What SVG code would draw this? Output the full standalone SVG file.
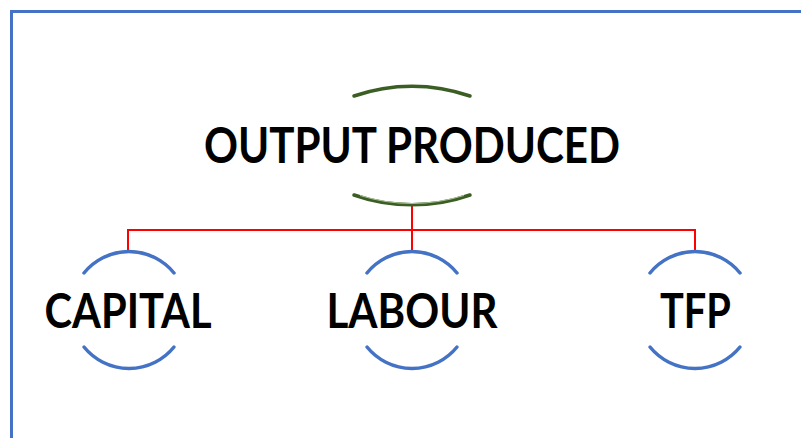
<svg xmlns="http://www.w3.org/2000/svg" width="801" height="438" viewBox="0 0 801 438">
  <style>
    .frame { fill: none; stroke: #4472C4; stroke-width: 3; }
    .green { fill: none; stroke: #3B5E24; stroke-width: 3.5; stroke-linecap: round; }
    .green-hi { fill: none; stroke: #A9C193; stroke-width: 1; }
    .blue { fill: none; stroke: #4472C4; stroke-width: 3.5; stroke-linecap: round; }
    .link { fill: none; stroke: #FF0000; stroke-width: 2; }
    .label { font-family: Lato, "Open Sans", "Liberation Sans", sans-serif; font-weight: 700; fill: #000000; text-anchor: middle; }
  </style>
  <rect width="801" height="438" fill="#FFFFFF"/>
  <rect class="frame" x="11.5" y="11.5" width="800" height="440"/>

  <g id="connectors">
    <path class="link" d="M412 205 V230"/>
    <path class="link" d="M128 252 V230 H695 V252"/>
    <path class="link" d="M412 230 V252"/>
  </g>

  <g id="node-output">
    <path class="green" d="M354 96 A176 176 0 0 1 470 96"/>
    <path class="green" d="M354 195 A176 176 0 0 0 470 195"/>
    <path class="green-hi" d="M360 195.5 A176 176 0 0 0 464 195.5"/>
    <text class="label" x="412" y="163" font-size="49" textLength="416" lengthAdjust="spacingAndGlyphs">OUTPUT PRODUCED</text>
  </g>

  <g id="node-capital">
    <path class="blue" d="M84 273 A58 58 0 0 1 174 273"/>
    <path class="blue" d="M84 347 A58 58 0 0 0 174 347"/>
    <text class="label" x="128" y="328" font-size="47" textLength="167" lengthAdjust="spacingAndGlyphs">CAPITAL</text>
  </g>

  <g id="node-labour">
    <path class="blue" d="M367 273 A58 58 0 0 1 457 273"/>
    <path class="blue" d="M367 347 A58 58 0 0 0 457 347"/>
    <text class="label" x="412" y="328" font-size="47" textLength="171" lengthAdjust="spacingAndGlyphs">LABOUR</text>
  </g>

  <g id="node-tfp">
    <path class="blue" d="M650 273 A58 58 0 0 1 740 273"/>
    <path class="blue" d="M650 347 A58 58 0 0 0 740 347"/>
    <text class="label" x="695.5" y="328" font-size="47" textLength="71" lengthAdjust="spacingAndGlyphs">TFP</text>
  </g>
</svg>
